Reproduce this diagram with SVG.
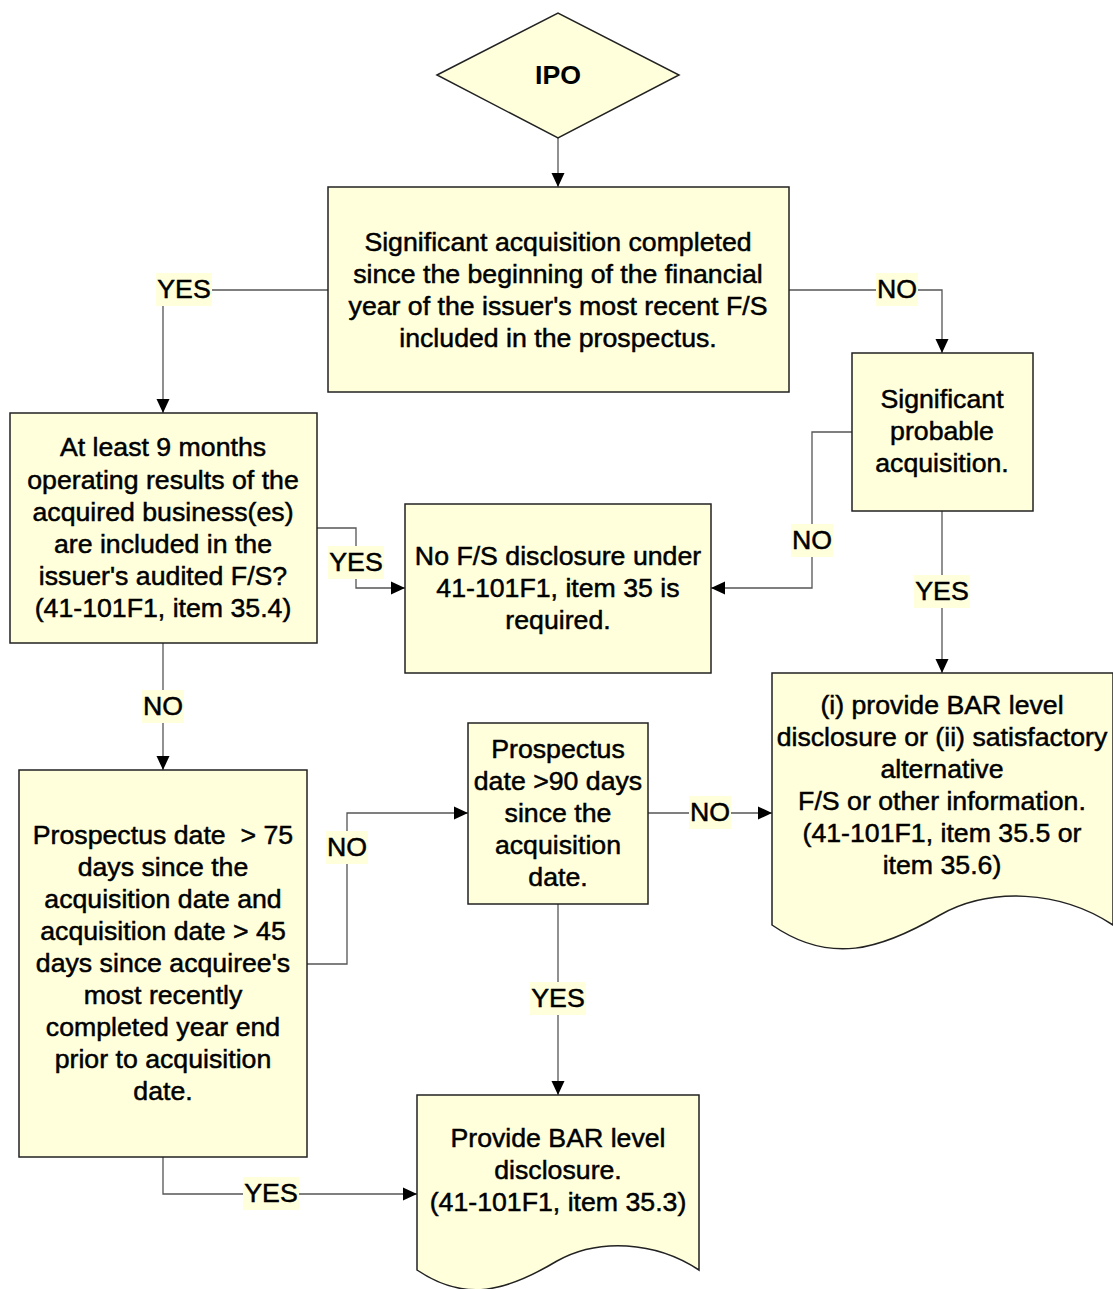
<svg xmlns="http://www.w3.org/2000/svg" width="1113" height="1289" viewBox="0 0 1113 1289">
<defs>
<marker id="arr" markerUnits="userSpaceOnUse" markerWidth="15" markerHeight="14" refX="14" refY="7" orient="auto">
<path d="M0,0.5 L14,7 L0,13.5 Z" fill="#000"/>
</marker>
<style>
.box{fill:#FFFFDC;stroke:#222;stroke-width:1.5}
.t{font-family:"Liberation Sans",Arial,sans-serif;font-size:26.7px;fill:#000;stroke:#000;stroke-width:0.5;text-anchor:middle}
.b{font-weight:bold;stroke-width:0}
.c{fill:none;stroke:#555;stroke-width:1.3}
.lb{fill:#FFFFDC;stroke:none}
</style>
</defs>
<rect width="1113" height="1289" fill="#fff"/>

<g id="connectors">
<path class="c" d="M558,138 V187" marker-end="url(#arr)"/>
<path class="c" d="M328,290 H163 V413" marker-end="url(#arr)"/>
<path class="c" d="M789,290 H942 V353" marker-end="url(#arr)"/>
<path class="c" d="M317,528 H356 V588 H405" marker-end="url(#arr)"/>
<path class="c" d="M852,432 H812 V588 H711" marker-end="url(#arr)"/>
<path class="c" d="M942,511 V673" marker-end="url(#arr)"/>
<path class="c" d="M163,643 V770" marker-end="url(#arr)"/>
<path class="c" d="M307,964 H347 V813 H468" marker-end="url(#arr)"/>
<path class="c" d="M648,813 H772" marker-end="url(#arr)"/>
<path class="c" d="M558,904 V1095" marker-end="url(#arr)"/>
<path class="c" d="M163,1157 V1194 H417" marker-end="url(#arr)"/>
<g id="labels">
<rect class="lb" x="156" y="273" width="56" height="33"/><text class="t" x="184" y="298">YES</text>
<rect class="lb" x="876" y="273" width="42" height="33"/><text class="t" x="897" y="298">NO</text>
<rect class="lb" x="328" y="546" width="56" height="33"/><text class="t" x="356" y="571">YES</text>
<rect class="lb" x="791" y="524" width="42" height="33"/><text class="t" x="812" y="549">NO</text>
<rect class="lb" x="914" y="575" width="56" height="33"/><text class="t" x="942" y="600">YES</text>
<rect class="lb" x="142" y="690" width="42" height="33"/><text class="t" x="163" y="715">NO</text>
<rect class="lb" x="326" y="831" width="42" height="33"/><text class="t" x="347" y="856">NO</text>
<rect class="lb" x="689" y="796" width="42" height="33"/><text class="t" x="710" y="821">NO</text>
<rect class="lb" x="530" y="982" width="56" height="33"/><text class="t" x="558" y="1007">YES</text>
<rect class="lb" x="243" y="1177" width="56" height="33"/><text class="t" x="271" y="1202">YES</text>
</g>
</g>

<g id="ipo">
<polygon class="box" points="437,75 558,13 679,75 558,138"/>
<text class="t b" x="558" y="84">IPO</text>
</g>

<g id="significant-acquisition">
<rect class="box" x="328" y="187" width="461" height="205"/>
<text class="t" x="558" y="251">Significant acquisition completed</text>
<text class="t" x="558" y="283">since the beginning of the financial</text>
<text class="t" x="558" y="315">year of the issuer's most recent F/S</text>
<text class="t" x="558" y="347">included in the prospectus.</text>
</g>

<g id="probable-acquisition">
<rect class="box" x="852" y="353" width="181" height="158"/>
<text class="t" x="942" y="408">Significant</text>
<text class="t" x="942" y="440">probable</text>
<text class="t" x="942" y="472">acquisition.</text>
</g>

<g id="nine-months">
<rect class="box" x="10" y="413" width="307" height="230"/>
<text class="t" x="163" y="456">At least 9 months</text>
<text class="t" x="163" y="489">operating results of the</text>
<text class="t" x="163" y="521">acquired business(es)</text>
<text class="t" x="163" y="553">are included in the</text>
<text class="t" x="163" y="585">issuer's audited F/S?</text>
<text class="t" x="163" y="617">(41-101F1, item 35.4)</text>
</g>

<g id="no-disclosure">
<rect class="box" x="405" y="504" width="306" height="169"/>
<text class="t" x="558" y="565">No F/S disclosure under</text>
<text class="t" x="558" y="597">41-101F1, item 35 is</text>
<text class="t" x="558" y="629">required.</text>
</g>

<g id="alternative-doc">
<path class="box" d="M772,673 H1113 V925 C1060,890 990,887 940,915 C880,950 830,965 772,925 Z"/>
<text class="t" x="942" y="714">(i) provide BAR level</text>
<text class="t" x="942" y="746">disclosure or (ii) satisfactory</text>
<text class="t" x="942" y="778">alternative</text>
<text class="t" x="942" y="810">F/S or other information.</text>
<text class="t" x="942" y="842">(41-101F1, item 35.5 or</text>
<text class="t" x="942" y="874">item 35.6)</text>
</g>

<g id="seventy-five-days">
<rect class="box" x="19" y="770" width="288" height="387"/>
<text class="t" x="163" y="844" xml:space="preserve">Prospectus date  &gt; 75</text>
<text class="t" x="163" y="876">days since the</text>
<text class="t" x="163" y="908">acquisition date and</text>
<text class="t" x="163" y="940">acquisition date &gt; 45</text>
<text class="t" x="163" y="972">days since acquiree's</text>
<text class="t" x="163" y="1004">most recently</text>
<text class="t" x="163" y="1036">completed year end</text>
<text class="t" x="163" y="1068">prior to acquisition</text>
<text class="t" x="163" y="1100">date.</text>
</g>

<g id="ninety-days">
<rect class="box" x="468" y="723" width="180" height="181"/>
<text class="t" x="558" y="758">Prospectus</text>
<text class="t" x="558" y="790">date &gt;90 days</text>
<text class="t" x="558" y="822">since the</text>
<text class="t" x="558" y="854">acquisition</text>
<text class="t" x="558" y="886">date.</text>
</g>

<g id="bar-doc">
<path class="box" d="M417,1095 H699 V1270 C655,1241 598,1238 557,1261 C507,1291 465,1303 417,1270 Z"/>
<text class="t" x="558" y="1147">Provide BAR level</text>
<text class="t" x="558" y="1179">disclosure.</text>
<text class="t" x="558" y="1211">(41-101F1, item 35.3)</text>
</g>
</svg>
